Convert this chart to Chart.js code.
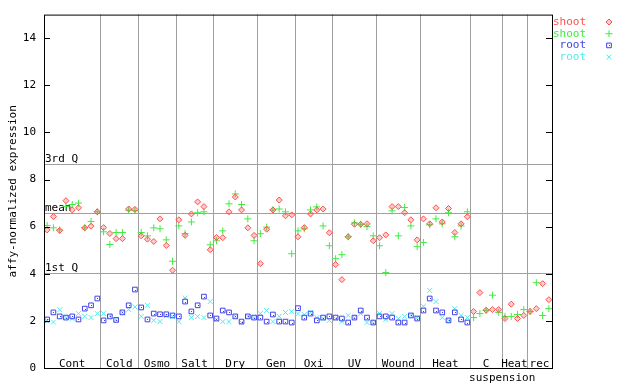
<!DOCTYPE html>
<html>
<head>
<meta charset="utf-8">
<script src="https://cdn.jsdelivr.net/npm/chart.js@4.4.0/dist/chart.umd.min.js"></script>
<style>
  html, body { margin: 0; padding: 0; background: #fff; }
  #wrap { width: 640px; height: 384px; }
</style>
</head>
<body>
<div id="wrap"><canvas id="myChart" width="640" height="384"></canvas></div>
<script>
// Grupos (etiquetas y cantidad de muestras por grupo)
let grupos = ['Cont', 'Cold', 'Osmo', 'Salt', 'Dry', 'Gen', 'Oxi', 'UV', 'Wound', 'Heat', 'C', 'Heat', 'rec']
let subEtiquetas = ['', '', '', '', '', '', '', '', '', '', 'suspension', '', '']
let tamGrupos = [9, 6, 6, 6, 7, 6, 6, 7, 7, 8, 5, 4, 4]

// Valores
let shootRojo = [5.86, 6.43, 5.84, 7.1, 6.71, 6.8, 5.95, 6.02, 6.63,
    5.96, 5.71, 5.49, 5.49, 6.75, 6.73,
    5.61, 5.47, 5.37, 6.33, 5.2, 4.15,
    6.29, 5.63, 6.54, 7.05, 6.85, 5.02,
    5.54, 5.53, 6.63, 7.26, 6.71, 5.95, 5.63,
    4.43, 5.89, 6.71, 7.13, 6.46, 6.5,
    5.57, 5.96, 6.54, 6.71, 6.75, 5.74,
    4.39, 3.75, 5.57, 6.1, 6.1, 6.12, 5.4,
    5.53, 5.65, 6.85, 6.85, 6.59, 6.29, 5.44,
    6.33, 6.12, 6.8, 6.2, 6.77, 5.75, 6.12, 6.42,
    2.4, 3.2, 2.45, 2.48, 2.48,
    2.1, 2.71, 2.1, 2.23,
    2.4, 2.52, 3.58, 2.9]
let shootVerde = [6.05, 5.95, 5.86, 6.85, 6.94, 7.0, 5.95, 6.22, 6.63,
    5.78, 5.24, 5.75, 5.75, 6.7, 6.68,
    5.75, 5.61, 5.95, 5.91, 5.44, 4.53,
    6.03, 5.71, 6.2, 6.59, 6.63, 5.23,
    5.4, 5.82, 6.97, 7.39, 6.94, 6.33, 5.4,
    5.7, 5.98, 6.71, 6.75, 6.63, 4.85,
    5.82, 5.91, 6.71, 6.84, 6.03, 5.19,
    4.64, 4.81, 5.57, 6.16, 6.1, 6.0, 5.61,
    5.19, 4.05, 6.67, 5.61, 6.81, 6.03, 5.15,
    5.33, 6.08, 6.33, 6.12, 6.59, 5.57, 6.03, 6.63,
    2.14, 2.31, 2.45, 3.09, 2.36,
    2.19, 2.19, 2.27, 2.48,
    2.4, 3.62, 2.23, 2.52]
let rootAzul = [2.06, 2.36, 2.19, 2.14, 2.19, 2.06, 2.52, 2.66, 2.95,
    2.02, 2.19, 2.04, 2.36, 2.66, 3.33,
    2.57, 2.06, 2.31, 2.28, 2.28, 2.23,
    2.19, 2.82, 2.4, 2.66, 3.03, 2.23,
    2.1, 2.44, 2.36, 2.19, 1.97, 2.19, 2.14,
    2.14, 1.97, 2.27, 1.97, 1.97, 1.93,
    2.54, 2.14, 2.31, 2.02, 2.14, 2.19,
    2.14, 2.1, 1.93, 2.14, 2.44, 2.14, 1.93,
    2.19, 2.19, 2.14, 1.93, 1.93, 2.23, 2.1,
    2.44, 2.95, 2.44, 2.36, 2.02, 2.36, 2.06, 1.93]
let rootCian = [2.0, 1.95, 2.47, 2.14, 2.1, 2.31, 2.19, 2.14, 2.31,
    2.31, 2.19, 2.06, 2.36, 2.48, 2.59,
    2.19, 2.66, 2.02, 1.97, 2.22, 2.19,
    1.97, 2.97, 2.14, 2.19, 2.14, 2.82,
    2.06, 1.97, 1.97, 2.19, 1.93, 2.19, 2.14,
    2.31, 2.44, 1.97, 2.19, 2.36, 2.4,
    2.31, 2.27, 2.35, 2.14, 2.1, 2.02,
    2.1, 1.97, 2.23, 2.14, 2.31, 1.93, 1.93,
    2.31, 2.06, 2.31, 2.1, 2.19, 2.23, 2.14,
    2.62, 3.29, 2.82, 2.14, 2.02, 2.52, 2.23, 2.14]

let yTicks = [0, 2, 4, 6, 8, 10, 12, 14]
let cuartiles = [['3rd Q', 8.66], ['mean', 6.6], ['1st Q', 4.05]]

const ROJO = 'rgb(255,80,80)'
const VERDE = 'rgb(64,235,64)'
const AZUL = 'rgb(64,64,235)'
const CIAN = 'rgb(80,235,235)'
const FUENTE = '11px "DejaVu Sans Mono", monospace'

function puntos(lista) {
    return lista.map((v, i) => ({ x: i, y: v }))
}

let series = [
    { label: 'shoot', data: puntos(shootRojo), pointStyle: 'rectRot', pointRadius: 3, borderColor: ROJO, backgroundColor: 'rgba(255,80,80,0.3)' },
    { label: 'shoot', data: puntos(shootVerde), pointStyle: 'cross', pointRadius: 3.5, borderColor: VERDE, backgroundColor: VERDE },
    { label: 'root', data: puntos(rootAzul), pointStyle: 'rect', pointRadius: 3.3, borderColor: AZUL, backgroundColor: 'rgba(0,0,0,0)' },
    { label: 'root', data: puntos(rootCian), pointStyle: 'crossRot', pointRadius: 3.5, borderColor: CIAN, backgroundColor: CIAN },
]
series.forEach(s => { s.borderWidth = 1; s.pointHoverRadius = s.pointRadius })

const decoracion = {
    id: 'decoracion',
    beforeDatasetsDraw(chart) {
        const { ctx, chartArea: a, scales: { x, y } } = chart
        ctx.save()
        ctx.strokeStyle = '#a0a0a0'
        ctx.lineWidth = 1
        // separadores de grupo
        let pos = -0.5
        for (let k = 0; k < tamGrupos.length - 1; k++) {
            pos += tamGrupos[k]
            let px = Math.round(x.getPixelForValue(pos)) + 0.5
            ctx.beginPath(); ctx.moveTo(px, a.top); ctx.lineTo(px, a.bottom); ctx.stroke()
        }
        // cuartiles
        ctx.font = FUENTE
        ctx.fillStyle = '#000'
        ctx.textBaseline = 'bottom'
        ctx.textAlign = 'left'
        cuartiles.forEach(([txt, v]) => {
            let py = Math.round(y.getPixelForValue(v)) + 0.5
            ctx.beginPath(); ctx.moveTo(a.left, py); ctx.lineTo(a.right, py); ctx.stroke()
            ctx.fillText(txt, a.left + 1, py + 0.5)
        })
        ctx.restore()
    },
    afterDatasetsDraw(chart) {
        const { ctx, chartArea: a, scales: { x, y } } = chart
        ctx.save()
        // punto central de los cuadrados
        ctx.fillStyle = AZUL
        chart.getDatasetMeta(2).data.forEach(p => ctx.fillRect(Math.round(p.x), Math.round(p.y), 1, 1))
        // marco
        ctx.strokeStyle = '#000'
        ctx.lineWidth = 1
        ctx.strokeRect(a.left + 0.5, a.top + 0.5, a.right - a.left, a.bottom - a.top)
        // marcas del eje y
        yTicks.forEach(v => {
            let py = Math.round(y.getPixelForValue(v)) + 0.5
            ctx.beginPath()
            ctx.moveTo(a.left, py); ctx.lineTo(a.left + 6, py)
            ctx.moveTo(a.right, py); ctx.lineTo(a.right - 6, py)
            ctx.stroke()
        })
        // etiquetas de grupo
        ctx.font = FUENTE
        ctx.fillStyle = '#000'
        ctx.textAlign = 'center'
        ctx.textBaseline = 'alphabetic'
        let ini = -0.5
        grupos.forEach((g, k) => {
            let fin = ini + tamGrupos[k]
            let cx = x.getPixelForValue((ini + fin) / 2)
            ctx.fillText(g, cx, a.bottom - 1)
            if (subEtiquetas[k]) ctx.fillText(subEtiquetas[k], cx + 16, a.bottom + 13)
            ini = fin
        })
        // titulo eje y
        ctx.save()
        ctx.translate(13, (a.top + a.bottom) / 2)
        ctx.rotate(-Math.PI / 2)
        ctx.textBaseline = 'middle'
        ctx.fillText('affy-normalized expression', 0, 0)
        ctx.restore()
        // leyenda
        ctx.textAlign = 'right'
        ctx.textBaseline = 'middle'
        series.forEach((s, k) => {
            let ly = 22 + k * 11.7
            ctx.fillStyle = s.borderColor
            ctx.fillText(s.label, 586, ly)
            ctx.strokeStyle = s.borderColor
            ctx.fillStyle = s.backgroundColor
            Chart.helpers.drawPoint(ctx, { pointStyle: s.pointStyle, radius: s.pointRadius, borderWidth: 1, rotation: 0 }, 609, ly)
            if (k === 2) { ctx.fillStyle = AZUL; ctx.fillRect(609, Math.round(ly), 1, 1) }
        })
        ctx.restore()
    }
}

new Chart(document.getElementById('myChart'), {
    type: 'scatter',
    data: { datasets: series },
    options: {
        responsive: false,
        animation: false,
        layout: { padding: { top: 14, right: 88, left: 0, bottom: 0 } },
        plugins: { legend: { display: false }, tooltip: { enabled: false } },
        scales: {
            x: {
                type: 'linear', min: -0.5, max: 80.5,
                ticks: { display: false },
                grid: { display: false, drawTicks: false },
                border: { display: false },
                afterFit: s => { s.height = 16 }
            },
            y: {
                min: 0, max: 15,
                afterBuildTicks: s => { s.ticks = yTicks.map(v => ({ value: v })) },
                ticks: { font: { family: '"DejaVu Sans Mono", monospace', size: 11 }, color: '#000', padding: 8 },
                grid: { display: false, drawTicks: false },
                border: { display: false },
                afterFit: s => { s.width = 44 }
            }
        }
    },
    plugins: [decoracion]
});
</script>
</body>
</html>
